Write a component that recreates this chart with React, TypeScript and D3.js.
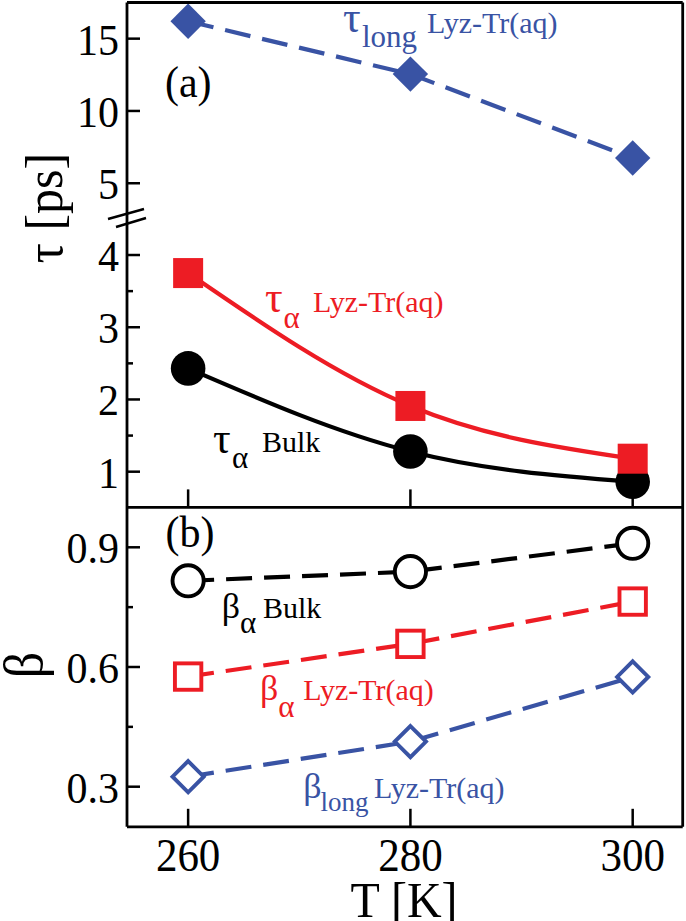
import React from "react";
import * as d3 from "d3";

const temps = [260, 280, 300];
const tauLong = [16.2, 12.55, 6.75];
const tauAlphaLyz = [3.75, 1.91, 1.18];
const tauAlphaBulk = [2.43, 1.28, 0.86];
const betaBulk = [0.816, 0.839, 0.91];
const betaAlphaLyz = [0.576, 0.658, 0.764];
const betaLong = [0.325, 0.413, 0.575];

const xTicks = [260, 280, 300];
const tauLowTicks = [1, 2, 3, 4];
const tauLowMinor = [1.5, 2.5, 3.5];
const tauHighTicks = [5, 10, 15];
const betaTicks = [0.3, 0.6, 0.9];
const betaMinor = [0.45, 0.75];

const BLUE = "#3953a4";
const RED = "#ed1c24";
const BLACK = "#000";
const FONT = "Liberation Serif, Tinos, Times New Roman, DejaVu Serif, serif";

const L = 127, R = 682.7, TOP = 2.5, MID = 507.4, BOT = 826.8;

const x = d3.scaleLinear().domain([254.5, 304.5]).range([L, R]);
const yLow = d3.scaleLinear().domain([0.5, 4.5]).range([507.8, 218.9]);
const yHigh = d3.scaleLinear().domain([2.5, 17.5]).range([219.4, 2.5]);
const yB = d3.scaleLinear().domain([0.2, 1.0]).range([826.6, 507.4]);

type Pt = [number, number];
const pts = (vals: number[], ys: d3.ScaleLinear<number, number>): Pt[] =>
  temps.map((t, i) => [x(t), ys(vals[i])]);

const straight = d3.line<Pt>().x(d => d[0]).y(d => d[1]);
const smooth = d3.line<Pt>().x(d => d[0]).y(d => d[1]).curve(d3.curveMonotoneX);

const diamond = (cx: number, cy: number, h: number) =>
  `M${cx},${cy - h}L${cx + h},${cy}L${cx},${cy + h}L${cx - h},${cy}Z`;

const SY = 1.07;
const T = ({ x: tx, y: ty, size, anchor = "start", fill = BLACK, children, rotate = false }: any) => (
  <text
    transform={`translate(${tx},${ty})${rotate ? " rotate(-90)" : ""} scale(1,${SY})`}
    style={{ fontFamily: FONT, fontSize: size }}
    textAnchor={anchor}
    fill={fill}
  >
    {children}
  </text>
);

const S = ({ x: tx, y: ty, size, fill, children }: any) => (
  <text x={tx} y={ty} style={{ fontFamily: FONT, fontSize: size }} fill={fill}>
    {children}
  </text>
);

export default function App() {
  const dash = "26,12";
  const lw = 4.2;
  const ms = 3.9;
  return (
    <svg
      width={686}
      height={921}
      style={{ position: "absolute", left: 0, top: 0, background: "#fff" }}
    >
      <rect x={0} y={0} width={686} height={921} fill="#fff" />

      {/* ---------- Panel (a) ---------- */}
      <path d={straight(pts(tauLong, yHigh)) || ""} fill="none" stroke={BLUE} strokeWidth={lw} strokeDasharray={dash} />
      <path d={smooth(pts(tauAlphaLyz, yLow)) || ""} fill="none" stroke={RED} strokeWidth={lw} />
      <path d={smooth(pts(tauAlphaBulk, yLow)) || ""} fill="none" stroke={BLACK} strokeWidth={lw} />

      {pts(tauLong, yHigh).map(([px, py], i) => (
        <path key={"tl" + i} d={diamond(px, py, 17.7)} fill={BLUE} />
      ))}
      {pts(tauAlphaBulk, yLow).map(([px, py], i) => (
        <circle key={"tb" + i} cx={px} cy={py} r={17.3} fill={BLACK} />
      ))}
      {pts(tauAlphaLyz, yLow).map(([px, py], i) => (
        <rect key={"ta" + i} x={px - 15} y={py - 15} width={30} height={30} fill={RED} />
      ))}

      {/* ---------- Panel (b) ---------- */}
      <path d={straight(pts(betaBulk, yB)) || ""} fill="none" stroke={BLACK} strokeWidth={lw} strokeDasharray={dash} />
      <path d={straight(pts(betaAlphaLyz, yB)) || ""} fill="none" stroke={RED} strokeWidth={lw} strokeDasharray={dash} />
      <path d={straight(pts(betaLong, yB)) || ""} fill="none" stroke={BLUE} strokeWidth={lw} strokeDasharray={dash} />

      {pts(betaBulk, yB).map(([px, py], i) => (
        <circle key={"bb" + i} cx={px} cy={py} r={15.6} fill="#fff" stroke={BLACK} strokeWidth={ms} />
      ))}
      {pts(betaAlphaLyz, yB).map(([px, py], i) => (
        <rect key={"ba" + i} x={px - 13.2} y={py - 13.2} width={26.4} height={26.4} fill="#fff" stroke={RED} strokeWidth={ms} />
      ))}
      {pts(betaLong, yB).map(([px, py], i) => (
        <path key={"bl" + i} d={diamond(px, py, 15.6)} fill="#fff" stroke={BLUE} strokeWidth={ms} />
      ))}

      {/* ---------- Frames ---------- */}
      <g fill="none" stroke={BLACK} strokeWidth={2.8}>
        <line x1={L} y1={TOP} x2={R} y2={TOP} />
        <line x1={R} y1={TOP} x2={R} y2={BOT} />
        <line x1={L} y1={MID} x2={R} y2={MID} />
        <line x1={L} y1={BOT} x2={R} y2={BOT} />
        <line x1={L} y1={TOP} x2={L} y2={BOT} />
      </g>

      {/* break marks */}
      <g stroke={BLACK} strokeWidth={2.4}>
        <line x1={108} y1={219} x2={144} y2={209} />
        <line x1={116} y1={227} x2={146} y2={218} />
      </g>

      {/* ---------- Ticks ---------- */}
      <g stroke={BLACK} strokeWidth={2.5}>
        {xTicks.map(t => (
          <g key={"xt" + t}>
            <line x1={x(t)} x2={x(t)} y1={MID} y2={MID - 18} />
            <line x1={x(t)} x2={x(t)} y1={BOT} y2={BOT - 18} />
          </g>
        ))}
        {tauLowTicks.map(t => (
          <line key={"yl" + t} x1={L} x2={L + 13} y1={yLow(t)} y2={yLow(t)} />
        ))}
        {tauLowMinor.map(t => (
          <line key={"ylm" + t} x1={L} x2={L + 6} y1={yLow(t)} y2={yLow(t)} />
        ))}
        {tauHighTicks.map(t => (
          <line key={"yh" + t} x1={L} x2={L + 13} y1={yHigh(t)} y2={yHigh(t)} />
        ))}
        {betaTicks.map(t => (
          <line key={"yb" + t} x1={L} x2={L + 13} y1={yB(t)} y2={yB(t)} />
        ))}
        {betaMinor.map(t => (
          <line key={"ybm" + t} x1={L} x2={L + 6} y1={yB(t)} y2={yB(t)} />
        ))}
      </g>

      {/* ---------- Tick labels ---------- */}
      {tauHighTicks.map(t => (
        <T key={"lh" + t} x={119} y={yHigh(t) + 16} size={42} anchor="end">{String(t)}</T>
      ))}
      {tauLowTicks.map(t => (
        <T key={"ll" + t} x={119} y={yLow(t) + 16} size={42} anchor="end">{String(t)}</T>
      ))}
      {betaTicks.map(t => (
        <T key={"lb" + t} x={119} y={yB(t) + 16} size={42} anchor="end">{t.toFixed(1)}</T>
      ))}
      {xTicks.map(t => (
        <T key={"lx" + t} x={x(t)} y={871} size={43} anchor="middle">{String(t)}</T>
      ))}

      {/* ---------- Axis titles ---------- */}
      <T x={404} y={917} size={48} anchor="middle">T [K]</T>
      <T x={62} y={208} size={50} anchor="middle" rotate>τ [ps]</T>
      <T x={42} y={665} size={52} anchor="middle" rotate>β</T>

      {/* ---------- Panel labels ---------- */}
      <T x={165} y={97} size={42}>(a)</T>
      <T x={165.5} y={547} size={42}>(b)</T>

      {/* series annotations */}
      <S x={343} y={31.5} size={44} fill={BLUE}>τ</S>
      <S x={362} y={47} size={31} fill={BLUE}>long</S>
      <S x={427} y={33} size={30} fill={BLUE}>Lyz-Tr(aq)</S>

      <S x={265} y={311.5} size={44} fill={RED}>τ</S>
      <S x={283.5} y={327.5} size={31} fill={RED}>α</S>
      <S x={313} y={311.5} size={30} fill={RED}>Lyz-Tr(aq)</S>

      <S x={213} y={453} size={44} fill={BLACK}>τ</S>
      <S x={232} y={468} size={31} fill={BLACK}>α</S>
      <S x={262} y={451.7} size={30} fill={BLACK}>Bulk</S>

      <S x={221.7} y={618} size={36} fill={BLACK}>β</S>
      <S x={240} y={633} size={31} fill={BLACK}>α</S>
      <S x={263} y={618.3} size={30} fill={BLACK}>Bulk</S>

      <S x={260} y={700} size={36} fill={RED}>β</S>
      <S x={278.3} y={716.5} size={31} fill={RED}>α</S>
      <S x={303.3} y={700} size={30} fill={RED}>Lyz-Tr(aq)</S>

      <S x={303.3} y={798} size={36} fill={BLUE}>β</S>
      <S x={320.5} y={811} size={27} fill={BLUE}>long</S>
      <S x={374} y={798.3} size={30} fill={BLUE}>Lyz-Tr(aq)</S>
    </svg>
  );
}
